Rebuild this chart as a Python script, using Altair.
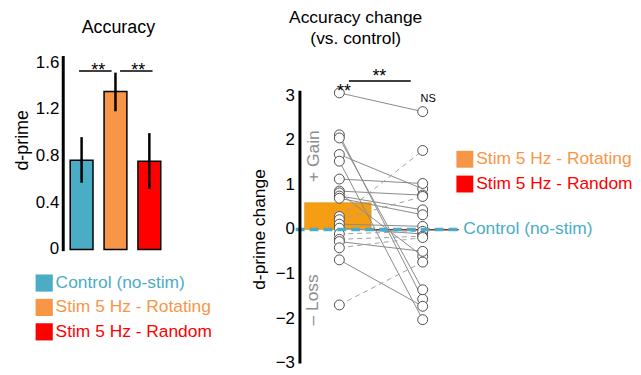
import altair as alt
import pandas as pd
import numpy as np

# ---------------- data ----------------
conditions = ["Control (no-stim)", "Stim 5 Hz - Rotating", "Stim 5 Hz - Random"]
bar_pos = [1, 2, 3]
dprime_mean = [0.765, 1.353, 0.756]
dprime_lo = [0.572, 1.184, 0.518]
dprime_hi = [0.963, 1.515, 0.997]
colors = ["#4BACC6", "#F79646", "#FF0000"]
left_ticks = [0, 0.4, 0.8, 1.2, 1.6]
left_tick_labels = ["0", "0.4", "0.8", "1.2", "1.6"]

# per-subject d-prime change vs control (paired, same subject order)
change_rotating = [3.06, 2.12, 2.05, 1.68, 1.53, 1.13, 0.86, 0.82, 0.75, 0.70,
                   0.29, 0.22, 0.12, 0.03, -0.10, -0.22, -0.27, -0.41, -0.68, -1.69]
change_random = [2.64, -1.56, -1.35, 0.91, -2.02, 1.03, 0.77, -0.60, 0.44, 0.33,
                 1.77, 0.74, 0.07, -0.10, -0.04, -0.15, -0.49, -0.18, -1.72, -0.73]
right_ticks = [-3, -2, -1, 0, 1, 2, 3]
right_tick_labels = ["\u22123", "\u22122", "\u22121", "0", "1", "2", "3"]

# ---------------- layout ----------------
W, H = 630, 365
FONT = "Liberation Sans"

# left panel scale mapping (pixels in chart coords)
L_X1, L_XU, L_Y0, L_YU = 70.3, 34.7, 242.0, 117.7
# right panel
R_X1, R_XU, R_Y0, R_YU = 334.0, 84.0, 221.8, 45.0


def xdom(x1, xu):
    return [1 - x1 / xu, 1 + (W - x1) / xu]


def ydom(y0, yu):
    return [(y0 - H) / yu, y0 / yu]


LX = alt.Scale(domain=xdom(L_X1, L_XU), nice=False, zero=False)
LY = alt.Scale(domain=ydom(L_Y0, L_YU), nice=False, zero=False)
RX = alt.Scale(domain=xdom(R_X1, R_XU), nice=False, zero=False)
RY = alt.Scale(domain=ydom(R_Y0, R_YU), nice=False, zero=False)
CS = alt.Scale(domain=conditions, range=colors)


def lx(f):
    return alt.X(f, scale=LX, axis=None)


def ly(f):
    return alt.Y(f, scale=LY, axis=None)


def rx(f):
    return alt.X(f, scale=RX, axis=None)


def ry(f):
    return alt.Y(f, scale=RY, axis=None)


L_AXIS_X = 0.458
R_AXIS_X = 0.527

# ---------------- left panel ----------------
df_bars = pd.DataFrame({"cond": conditions, "pos": bar_pos, "mean": dprime_mean,
                        "lo": dprime_lo, "hi": dprime_hi})

bars = alt.Chart(df_bars).mark_bar(size=23, stroke="black", strokeWidth=1.5).encode(
    x=lx("pos:Q"), y=ly("mean:Q"), y2=alt.datum(0),
    color=alt.Color("cond:N", scale=CS, legend=None),
)

errs = alt.Chart(df_bars).mark_rule(color="black", strokeWidth=2.5).encode(
    x=lx("pos:Q"), y=ly("lo:Q"), y2="hi:Q")

l_axis = alt.Chart(pd.DataFrame({"x": [L_AXIS_X], "y0": [-0.014], "y1": [1.657]})).mark_rule(
    color="black", strokeWidth=3).encode(x=lx("x:Q"), y=ly("y0:Q"), y2="y1:Q")

df_lt = pd.DataFrame({"v": left_ticks, "t": left_tick_labels})
df_lt["x"] = L_AXIS_X
l_ticks = alt.Chart(df_lt).mark_text(fontSize=17, font=FONT, align="right", baseline="middle",
                                     dx=-4, color="black").encode(
    x=lx("x:Q"), y=ly("v:Q"), text="t:N")

sig_l = alt.Chart(pd.DataFrame({"x0": [0.925, 2.135], "x1": [1.885, 3.095], "y": [1.529, 1.529]})).mark_rule(
    color="black", strokeWidth=1.5).encode(x=lx("x0:Q"), x2="x1:Q", y=ly("y:Q"))

sig_l_txt = alt.Chart(pd.DataFrame({"x": [1.49, 2.67], "y": [1.485, 1.485], "t": ["**", "**"]})).mark_text(
    fontSize=18, font=FONT, baseline="alphabetic", align="center", color="black").encode(
    x=lx("x:Q"), y=ly("y:Q"), text="t:N")

l_title = alt.Chart(pd.DataFrame({"x": [2.086], "y": [1.895], "t": ["Accuracy"]})).mark_text(
    fontSize=18, font=FONT, baseline="middle", align="center", color="black").encode(
    x=lx("x:Q"), y=ly("y:Q"), text="t:N")

l_ytitle = alt.Chart(pd.DataFrame({"x": [-0.738], "y": [0.935], "t": ["d-prime"]})).mark_text(
    fontSize=18, font=FONT, baseline="middle", align="center", angle=270, color="black").encode(
    x=lx("x:Q"), y=ly("y:Q"), text="t:N")

df_leg_l = pd.DataFrame({"cond": conditions, "row": [0, 1, 2]})
df_leg_l["y"] = -0.287 - df_leg_l["row"] * 0.209
df_leg_l["xs"] = -0.104
df_leg_l["xt"] = 0.233

leg_l_sq = alt.Chart(df_leg_l).mark_square(size=300, opacity=1).encode(
    x=lx("xs:Q"), y=ly("y:Q"), color=alt.Color("cond:N", scale=CS, legend=None))
leg_l_txt = alt.Chart(df_leg_l).mark_text(fontSize=17.5, font=FONT, align="left", baseline="middle").encode(
    x=lx("xt:Q"), y=ly("y:Q"), text="cond:N", color=alt.Color("cond:N", scale=CS, legend=None))

left = alt.layer(bars, errs, l_axis, l_ticks, sig_l, sig_l_txt, l_title, l_ytitle, leg_l_sq, leg_l_txt)

# ---------------- right panel ----------------
pairs = pd.DataFrame({"rot": change_rotating, "rand": change_random})
pairs["x0"] = 1
pairs["x1"] = 2
dec = pairs[pairs["rand"] <= pairs["rot"]]
inc = pairs[pairs["rand"] > pairs["rot"]]

mean_rot = float(np.mean(change_rotating))
mean_rand = float(np.mean(change_random))
df_means = pd.DataFrame({"cond": ["Stim 5 Hz - Rotating", "Stim 5 Hz - Random"],
                         "x0": [0.583, 1.333], "x1": [1.381, 2.43],
                         "m": [mean_rot, mean_rand]})

rect_rot = alt.Chart(df_means.iloc[[0]]).mark_rect(color="#F59E14", stroke="#D98A0A", strokeWidth=0.6).encode(
    x=rx("x0:Q"), x2="x1:Q", y=ry("m:Q"), y2=alt.datum(0))
rect_rand = alt.Chart(df_means.iloc[[1]]).mark_rect(color="#FF0000", stroke="#8B2B2B", strokeWidth=1).encode(
    x=rx("x0:Q"), x2="x1:Q", y=ry("m:Q"), y2=alt.datum(0))

lines_dec = alt.Chart(dec).mark_rule(color="#8a8a8a", strokeWidth=1).encode(
    x=rx("x0:Q"), x2="x1:Q", y=ry("rot:Q"), y2="rand:Q")
lines_inc = alt.Chart(inc).mark_rule(color="#a0a0a0", strokeWidth=1, strokeDash=[5, 4]).encode(
    x=rx("x0:Q"), x2="x1:Q", y=ry("rot:Q"), y2="rand:Q")

pts = pd.DataFrame({"x": [1] * len(change_rotating) + [2] * len(change_random),
                    "v": change_rotating + change_random})
points = alt.Chart(pts).mark_point(shape="circle", size=100, filled=True, fill="white",
                                   stroke="#4d4d4d", strokeWidth=1, opacity=1).encode(
    x=rx("x:Q"), y=ry("v:Q"))

zero_line = alt.Chart(pd.DataFrame({"x0": [0.476], "x1": [2.43], "y": [0]})).mark_rule(
    color="#4BACC6", strokeWidth=3.3, strokeDash=[9, 5]).encode(
    x=rx("x0:Q"), x2="x1:Q", y=ry("y:Q"))

r_axis = alt.Chart(pd.DataFrame({"x": [R_AXIS_X], "y0": [-3.0], "y1": [3.107]})).mark_rule(
    color="black", strokeWidth=3).encode(x=rx("x:Q"), y=ry("y0:Q"), y2="y1:Q")

df_rt = pd.DataFrame({"v": right_ticks, "t": right_tick_labels})
df_rt["x"] = R_AXIS_X
r_ticks = alt.Chart(df_rt).mark_text(fontSize=17, font=FONT, align="right", baseline="middle",
                                     dx=-5, color="black").encode(
    x=rx("x:Q"), y=ry("v:Q"), text="t:N")

sig_r = alt.Chart(pd.DataFrame({"x0": [1.115], "x1": [1.857], "y": [3.328]})).mark_rule(
    color="black", strokeWidth=1.5).encode(x=rx("x0:Q"), x2="x1:Q", y=ry("y:Q"))
sig_r_txt = alt.Chart(pd.DataFrame({"x": [1.056, 1.48], "y": [2.97, 3.306], "t": ["**", "**"]})).mark_text(
    fontSize=18, font=FONT, baseline="alphabetic", align="center", color="black").encode(
    x=rx("x:Q"), y=ry("y:Q"), text="t:N")
ns_txt = alt.Chart(pd.DataFrame({"x": [2.065], "y": [2.93], "t": ["NS"]})).mark_text(
    fontSize=11, font=FONT, baseline="middle", align="center", color="black").encode(
    x=rx("x:Q"), y=ry("y:Q"), text="t:N")

r_title = alt.Chart(pd.DataFrame({"x": [1.196, 1.196], "y": [4.62, 4.15],
                                  "t": ["Accuracy change", "(vs. control)"]})).mark_text(
    fontSize=17.5, font=FONT, baseline="alphabetic", align="center", color="black").encode(
    x=rx("x:Q"), y=ry("y:Q"), text="t:N")

r_ytitle = alt.Chart(pd.DataFrame({"x": [0.048], "y": [0.0], "t": ["d-prime change"]})).mark_text(
    fontSize=17.5, font=FONT, baseline="middle", align="center", angle=270, color="black").encode(
    x=rx("x:Q"), y=ry("y:Q"), text="t:N")

gain_loss = alt.Chart(pd.DataFrame({"x": [0.699, 0.679], "y": [1.644, -1.576],
                                    "t": ["+ Gain", "\u2013 Loss"]})).mark_text(
    fontSize=17.5, font=FONT, baseline="middle", align="center", angle=270, color="#8c8c8c").encode(
    x=rx("x:Q"), y=ry("y:Q"), text="t:N")

df_leg_r = pd.DataFrame({"cond": ["Stim 5 Hz - Rotating", "Stim 5 Hz - Random"],
                         "y": [1.573, 1.018]})
df_leg_r["xs"] = 2.506
df_leg_r["xt"] = 2.643
leg_r_sq = alt.Chart(df_leg_r).mark_square(size=290, opacity=1).encode(
    x=rx("xs:Q"), y=ry("y:Q"), color=alt.Color("cond:N", scale=CS, legend=None))
leg_r_txt = alt.Chart(df_leg_r).mark_text(fontSize=17.5, font=FONT, align="left", baseline="middle").encode(
    x=rx("xt:Q"), y=ry("y:Q"), text="cond:N", color=alt.Color("cond:N", scale=CS, legend=None))

ctrl_txt = alt.Chart(pd.DataFrame({"x": [2.488], "y": [0.0], "t": [conditions[0]]})).mark_text(
    fontSize=17.5, font=FONT, align="left", baseline="middle", color=colors[0]).encode(
    x=rx("x:Q"), y=ry("y:Q"), text="t:N")

right = alt.layer(rect_rot, rect_rand, lines_dec, lines_inc, points, zero_line, r_axis, r_ticks,
                  sig_r, sig_r_txt, ns_txt, r_title, r_ytitle, gain_loss,
                  leg_r_sq, leg_r_txt, ctrl_txt)

chart = alt.layer(left, right).resolve_scale(x="independent", y="independent").properties(
    width=W, height=H, autosize=alt.AutoSizeParams(type="none"), padding=0, background="white"
).configure_view(strokeWidth=0)

chart.save("out.html", embed_options={"renderer": "svg", "actions": False})
